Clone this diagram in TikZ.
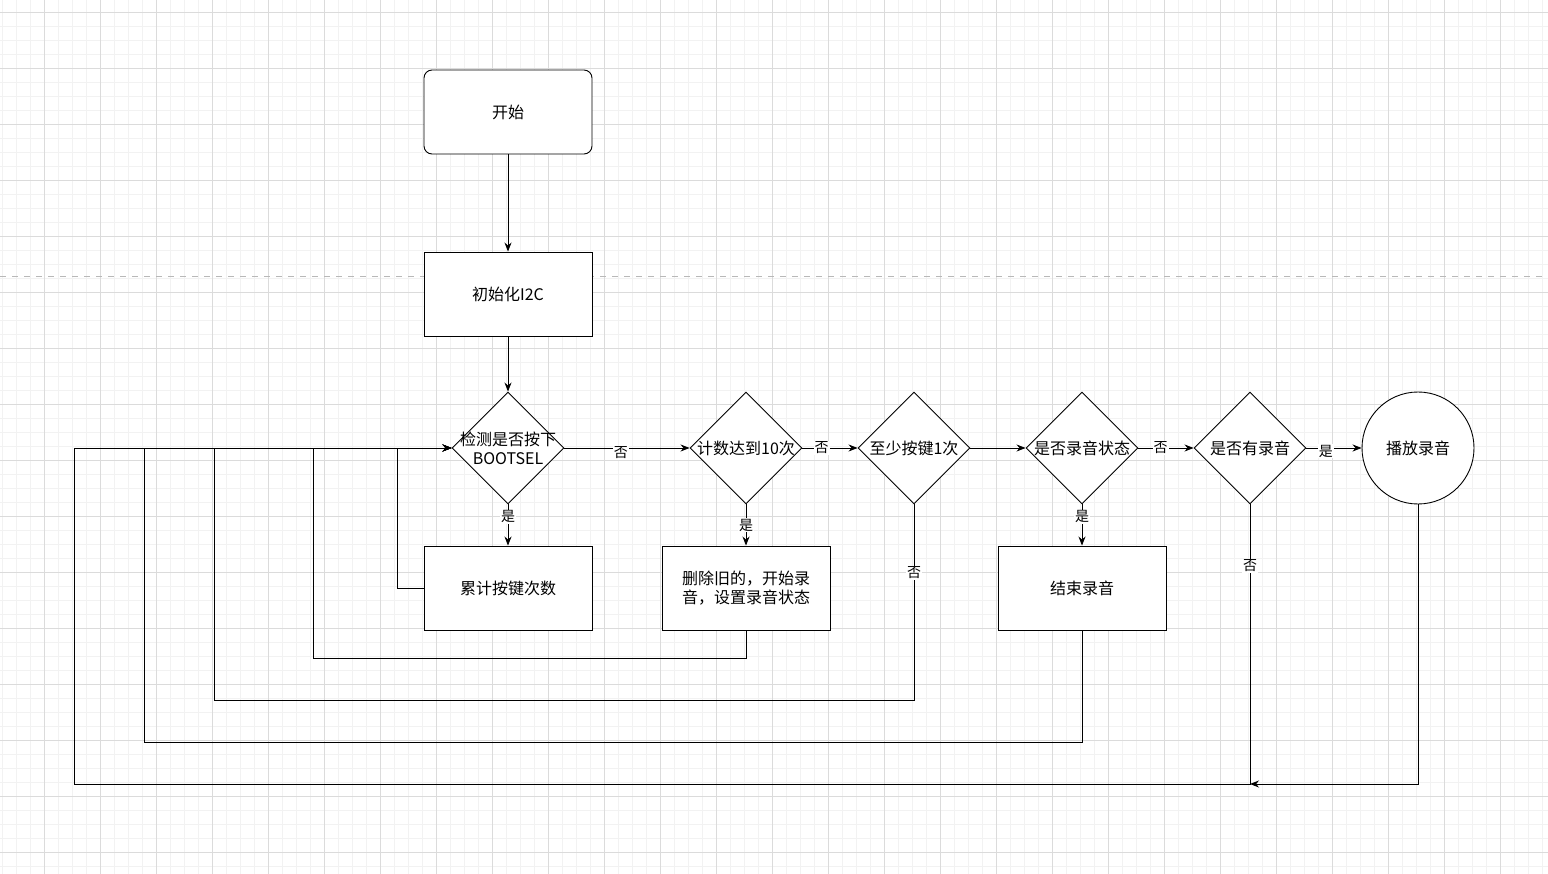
\documentclass[tikz,border=0pt]{standalone}
\usepackage{fontspec}
\setmainfont{Noto Sans CJK SC}
\usetikzlibrary{shapes.geometric,arrows.meta}
\begin{document}
\begin{tikzpicture}[x=1pt,y=-1pt,
  every node/.style={font=\fontsize{16}{19}\selectfont,align=center},
  box/.style={draw,line width=0.9pt,minimum width=168pt,minimum height=84pt,inner sep=2pt,fill=white},
  dia/.style={draw,line width=0.9pt,diamond,aspect=1,minimum width=112pt,minimum height=112pt,inner sep=0pt,fill=white},
  ar/.style={draw,line width=0.9pt,-{Stealth[length=9pt,width=7pt]}},
  lbl/.style={fill=white,inner sep=1pt,font=\fontsize{14}{15}\selectfont}]
\useasboundingbox (0,0) rectangle (1548,874);
\fill[white] (0,0) rectangle (1548,874);
\foreach \x in {2,16,...,1548} \draw[black!5,line width=0.6pt] (\x,0) -- (\x,874);
\foreach \y in {12,26,...,874} \draw[black!5,line width=0.6pt] (0,\y) -- (1548,\y);
\foreach \x in {44,100,...,1548} \draw[black!14,line width=0.7pt] (\x,0) -- (\x,874);
\foreach \y in {12,68,...,874} \draw[black!14,line width=0.7pt] (0,\y) -- (1548,\y);
\draw[black!28,dashed,dash pattern=on 6pt off 6pt,line width=1pt] (0,277) -- (1548,277);

\node[box,rounded corners=8pt] (start) at (508,112) {开始};
\node[box] (init) at (508,294) {初始化I2C};
\node[dia] (d1) at (508,448) {};
\node (t1) at (508,448) {检测是否按下\\BOOTSEL};
\node[dia] (d2) at (746,448) {};
\node (t2) at (746,448) {计数达到10次};
\node[dia] (d3) at (914,448) {};
\node (t3) at (914,448) {至少按键1次};
\node[dia] (d4) at (1082,448) {};
\node (t4) at (1082,448) {是否录音状态};
\node[dia] (d5) at (1250,448) {};
\node (t5) at (1250,448) {是否有录音};
\node[draw,line width=0.9pt,circle,minimum size=112pt,fill=white] (play) at (1418,448) {播放录音};
\node[box] (b1) at (508,588) {累计按键次数};
\node[box] (b2) at (746,588) {删除旧的，开始录\\音，设置录音状态};
\node[box] (b3) at (1082,588) {结束录音};
\coordinate (m) at (1250,784);

\path[ar] (start) -- (init);
\path[ar] (init) -- (d1);
\path[ar] (d1) -- node[lbl,pos=0.45,yshift=-5pt]{否} (d2);
\path[ar] (d2) -- node[lbl,pos=0.35]{否} (d3);
\path[ar] (d3) -- (d4);
\path[ar] (d4) -- node[lbl,pos=0.4]{否} (d5);
\path[ar] (d5) -- node[lbl,pos=0.35,yshift=-3pt]{是} (play);
\path[ar] (d1) -- node[lbl,pos=0.3]{是} (b1);
\path[ar] (d2) -- node[lbl,pos=0.5]{是} (b2);
\path[ar] (d4) -- node[lbl,pos=0.3]{是} (b3);
\path[ar] (b1.west) -- (397,588) -- (397,448) -- (d1.west);
\path[ar] (b2.south) -- (746,658) -- (313,658) -- (313,448) -- (d1.west);
\path[ar] (d3.south) -- node[lbl,pos=0.35]{否} (914,700) -- (214,700) -- (214,448) -- (d1.west);
\path[ar] (b3.south) -- (1082,742) -- (144,742) -- (144,448) -- (d1.west);
\path[ar] (play.south) -- (1418,784) -- (m);
\path[ar] (d5.south) -- node[lbl,pos=0.22]{否} (m) -- (74,784) -- (74,448) -- (d1.west);
\end{tikzpicture}
\end{document}
